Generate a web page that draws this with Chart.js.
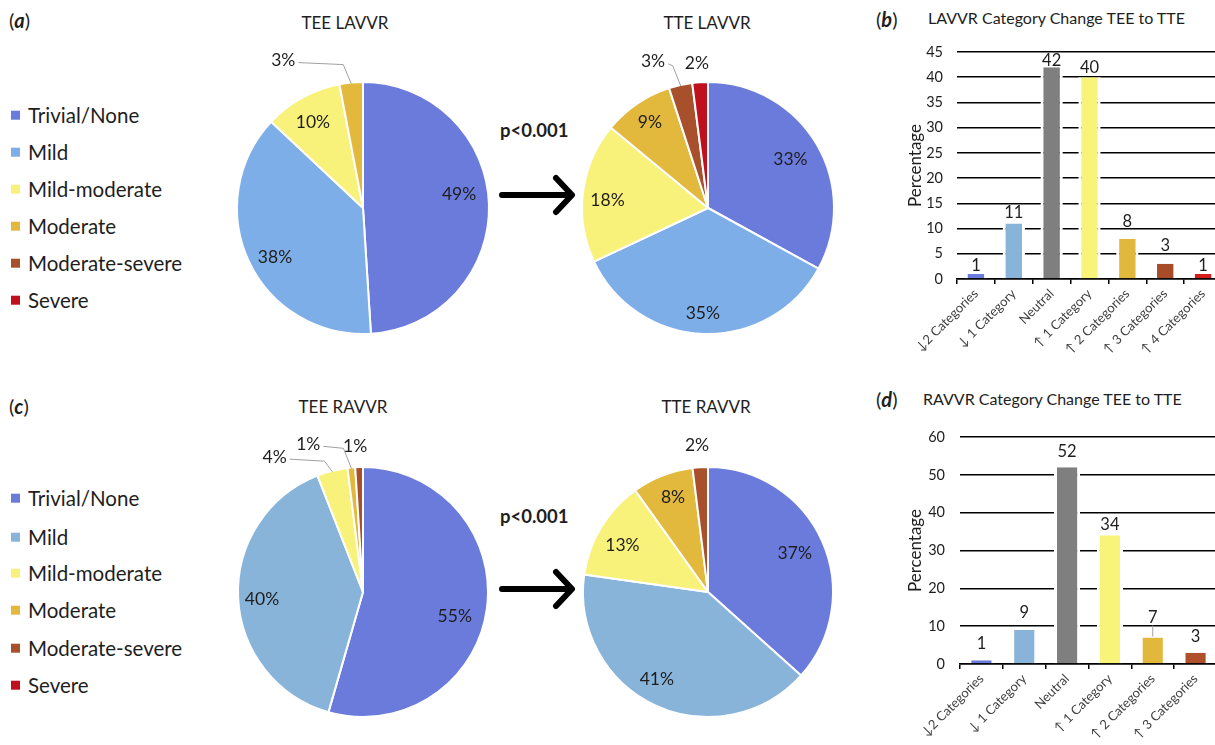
<!DOCTYPE html>
<html>
<head>
<meta charset="utf-8">
<title>LAVVR / RAVVR grading: TEE vs TTE</title>
<script src="https://cdn.jsdelivr.net/npm/chart.js@4.4.1/dist/chart.umd.min.js"></script>
<style>
  html, body { margin: 0; padding: 0; width: 1215px; height: 745px; overflow: hidden; background: #fff; }
  body { position: relative; font-family: Lato, "Open Sans", "DejaVu Sans", sans-serif; color: #1e1e1e; }
  .abs { position: absolute; white-space: nowrap; transform: translateY(-50%); line-height: 1.2; }
  .tag { font-size: 20px; }
  .tag b { font-style: italic; }
  .ptitle { font-size: 17px; transform: translate(-50%, -50%); }
  .btitle { font-size: 16px; }
  .pval { font-size: 18.5px; font-weight: bold; }
  .leg { font-size: 20.5px; display: flex; align-items: center; }
  .leg i { display: inline-block; width: 9px; height: 9px; margin-right: 8px; }
  canvas { position: absolute; }
</style>
</head>
<body>

<div class="abs tag" style="left:9px;top:20px">(<b>a</b>)</div>
<div class="abs tag" style="left:876px;top:19px">(<b>b</b>)</div>
<div class="abs tag" style="left:9px;top:406px">(<b>c</b>)</div>
<div class="abs tag" style="left:876px;top:399px">(<b>d</b>)</div>

<div class="abs ptitle" style="left:345px;top:23px">TEE LAVVR</div>
<div class="abs ptitle" style="left:707px;top:23px">TTE LAVVR</div>
<div class="abs ptitle" style="left:343px;top:407px">TEE RAVVR</div>
<div class="abs ptitle" style="left:706px;top:407px">TTE RAVVR</div>

<div class="abs btitle" style="left:928px;top:18px">LAVVR Category Change TEE to TTE</div>
<div class="abs btitle" style="left:923px;top:399px">RAVVR Category Change TEE to TTE</div>

<div class="abs pval" style="left:500px;top:130px">p&lt;0.001</div>
<div class="abs pval" style="left:500px;top:516px">p&lt;0.001</div>

<svg style="position:absolute;left:495px;top:170px" width="90" height="50">
  <path d="M7 25 H75 M61 8 L77 25 L61 42" stroke="#000" stroke-width="6" fill="none" stroke-linecap="round" stroke-linejoin="round"/>
</svg>
<svg style="position:absolute;left:495px;top:564px" width="90" height="50">
  <path d="M7 25 H75 M61 8 L77 25 L61 42" stroke="#000" stroke-width="6" fill="none" stroke-linecap="round" stroke-linejoin="round"/>
</svg>

<div id="legendA"></div>
<div id="legendC"></div>

<canvas id="teeLavvrPie" width="360" height="360" style="left:183px;top:28px"></canvas>
<canvas id="tteLavvrPie" width="360" height="360" style="left:528px;top:28px"></canvas>
<canvas id="teeRavvrPie" width="360" height="360" style="left:183px;top:412px"></canvas>
<canvas id="tteRavvrPie" width="360" height="360" style="left:528px;top:412px"></canvas>
<canvas id="lavvrBars" width="342" height="372" style="left:880px;top:0px"></canvas>
<canvas id="ravvrBars" width="337" height="360" style="left:880px;top:385px"></canvas>

<script>
// ---- data ----
const severityLabels = ['Trivial/None', 'Mild', 'Mild-moderate', 'Moderate', 'Moderate-severe', 'Severe'];

// percentage of patients per regurgitation grade
const teeLavvr = [49, 38, 10, 3, 0, 0];
const tteLavvr = [33, 35, 18, 9, 3, 2];
const teeRavvr = [55, 40, 4, 1, 1, 0];
const tteRavvr = [37, 41, 13, 8, 2, 0];

// change in grade category between TEE and TTE (percentage)
const lavvrChangeCategories = ['\u21932 Categories', '\u2193 1 Category', 'Neutral', '\u2191 1 Category', '\u2191 2 Categories', '\u2191 3 Categories', '\u2191 4 Categories'];
const lavvrChange = [1, 11, 42, 40, 8, 3, 1];
const ravvrChangeCategories = ['\u21932 Categories', '\u2193 1 Category', 'Neutral', '\u2191 1 Category', '\u2191 2 Categories', '\u2191 3 Categories'];
const ravvrChange = [1, 9, 52, 34, 7, 3];

// y-axis ranges of the two bar panels
const lavvrAxis = { max: 45, step: 5 };
const ravvrAxis = { max: 60, step: 10 };

// ---- styling ----
const FONT = 'Lato, "Open Sans", "DejaVu Sans", sans-serif';
const lavvrColors = ['#6a7bdc', '#7daee8', '#f8f27a', '#e2b93c', '#a8502c', '#c0101e'];
const ravvrColors = ['#6a7bdc', '#88b4da', '#f8f27a', '#e2b93c', '#a8502c', '#c0101e'];
const lavvrBarColors = ['#6a7bdc', '#88b4da', '#7f7f7f', '#f8f47a', '#e2b83c', '#a84c28', '#d41e1e'];
const ravvrBarColors = ['#6a7bdc', '#88b4da', '#7f7f7f', '#f8f47a', '#e2b83c', '#b0502a'];

// ---- legends ----
function buildLegend(id, colors, rowYs) {
  const host = document.getElementById(id);
  severityLabels.forEach((name, i) => {
    const row = document.createElement('div');
    row.className = 'abs leg';
    row.style.left = '11px';
    row.style.top = rowYs[i] + 'px';
    row.innerHTML = '<i style="background:' + colors[i] + '"></i>' + name;
    host.appendChild(row);
  });
}
buildLegend('legendA', lavvrColors, [115, 152, 189, 226, 263, 300]);
buildLegend('legendC', ravvrColors, [498, 537, 573, 610, 648, 685]);

// ---- pie slice labels ----
// shift: degrees the label is turned from the slice middle, r: distance as a fraction of the radius
const sliceLabels = {
  id: 'sliceLabels',
  afterDatasetsDraw(chart, args, opts) {
    const ctx = chart.ctx;
    const values = chart.data.datasets[0].data;
    const meta = chart.getDatasetMeta(0);
    ctx.save();
    ctx.font = '17.5px ' + FONT;
    ctx.fillStyle = '#1e1e1e';
    ctx.textAlign = 'center';
    ctx.textBaseline = 'middle';
    meta.data.forEach((arc, i) => {
      if (!values[i]) return;
      const p = arc.getProps(['x', 'y', 'startAngle', 'endAngle', 'outerRadius'], true);
      const spec = (opts.place && opts.place[i]) || {};
      const mid = (p.startAngle + p.endAngle) / 2;
      const a = mid + (spec.shift || 0) * Math.PI / 180;
      const f = spec.r || 0.76;
      const lx = p.x + Math.cos(a) * p.outerRadius * f;
      const ly = p.y + Math.sin(a) * p.outerRadius * f;
      const txt = values[i] + '%';
      ctx.fillText(txt, lx, ly);
      if (spec.leader) {
        const w = ctx.measureText(txt).width;
        const ex = p.x + Math.cos(mid) * (p.outerRadius - 1);
        const ey = p.y + Math.sin(mid) * (p.outerRadius - 1);
        ctx.strokeStyle = '#a0a0a0';
        ctx.lineWidth = 1;
        ctx.beginPath();
        ctx.moveTo(lx + w / 2 + 3, ly + 2);
        ctx.lineTo(ex - 8, ly + 4);
        ctx.lineTo(ex, ey);
        ctx.stroke();
      }
    });
    ctx.restore();
  }
};

function makePie(id, values, colors, radius, place) {
  return new Chart(document.getElementById(id), {
    type: 'pie',
    data: {
      labels: severityLabels,
      datasets: [{ data: values, backgroundColor: colors, borderColor: '#ffffff', borderWidth: 2 }]
    },
    options: {
      responsive: false,
      animation: false,
      events: [],
      radius: radius,
      layout: { padding: 0 },
      plugins: { legend: { display: false }, tooltip: { enabled: false }, sliceLabels: { place } }
    },
    plugins: [sliceLabels]
  });
}

makePie('teeLavvrPie', teeLavvr, lavvrColors, 126, [
  { shift: -6, r: 0.77 }, { shift: -4, r: 0.80 }, { shift: -1.4, r: 0.79 }, { shift: -23, r: 1.33, leader: true }
]);
makePie('tteLavvrPie', tteLavvr, lavvrColors, 126, [
  { shift: 0, r: 0.76 }, { shift: 1, r: 0.84 }, { shift: -2.6, r: 0.80 }, { shift: 0, r: 0.82 },
  { shift: -8, r: 1.24, leader: true }, { shift: -0.8, r: 1.15 }
]);
makePie('teeRavvrPie', teeRavvr, ravvrColors, 125, [
  { shift: 7, r: 0.76 }, { shift: -1.3, r: 0.81 }, { shift: -19, r: 1.29, leader: true },
  { shift: -15, r: 1.26, leader: true }, { shift: -1.3, r: 1.17 }
]);
makePie('tteRavvrPie', tteRavvr, ravvrColors, 125, [
  { shift: 0, r: 0.76 }, { shift: 5.4, r: 0.81 }, { shift: -2.5, r: 0.78 }, { shift: 1.2, r: 0.81 }, { shift: -0.7, r: 1.18 }
]);

// ---- bar value labels ----
const barValueLabels = {
  id: 'barValueLabels',
  afterDatasetsDraw(chart, args, opts) {
    const ctx = chart.ctx;
    const values = chart.data.datasets[0].data;
    const meta = chart.getDatasetMeta(0);
    ctx.save();
    ctx.font = '16.5px ' + FONT;
    ctx.fillStyle = '#1e1e1e';
    ctx.textAlign = 'center';
    ctx.textBaseline = 'middle';
    meta.data.forEach((bar, i) => {
      const lift = (opts.lift && opts.lift[i]) || 10;
      const y = bar.y - lift;
      ctx.fillText(String(values[i]), bar.x, y);
      if (opts.leaders && opts.leaders.includes(i)) {
        ctx.strokeStyle = '#a0a0a0';
        ctx.lineWidth = 1;
        ctx.beginPath();
        ctx.moveTo(bar.x, y + 8);
        ctx.lineTo(bar.x, bar.y - 1);
        ctx.stroke();
      }
    });
    ctx.restore();
  }
};

function makeBars(id, cats, values, colors, axis, dims, labelOpts) {
  return new Chart(document.getElementById(id), {
    type: 'bar',
    data: {
      labels: cats,
      datasets: [{
        data: values,
        backgroundColor: colors,
        borderColor: '#ffffff',
        borderWidth: { left: 3, right: 3, top: 0, bottom: 0 },
        borderSkipped: false,
        barPercentage: dims.barPct,
        categoryPercentage: 1
      }]
    },
    options: {
      responsive: false,
      animation: false,
      events: [],
      layout: { padding: { top: dims.top, left: 0, right: 0, bottom: 0 } },
      plugins: { legend: { display: false }, tooltip: { enabled: false }, barValueLabels: labelOpts },
      scales: {
        x: {
          offset: true,
          grid: { offset: true, drawOnChartArea: false, drawTicks: true, tickLength: 5, color: '#000', lineWidth: 1.5 },
          border: { display: true, color: '#000', width: 1.5 },
          ticks: { autoSkip: false, minRotation: 45, maxRotation: 45, padding: 2, color: '#404040', font: { family: FONT, size: 13 } },
          afterFit(scale) { scale.height = dims.xHeight; }
        },
        y: {
          min: 0,
          max: axis.max,
          ticks: { stepSize: axis.step, padding: dims.tickPad, color: '#1e1e1e', font: { family: FONT, size: 14.5 } },
          grid: { color: '#000', lineWidth: 1.5, drawTicks: false },
          border: { display: false },
          title: { display: true, text: 'Percentage', color: '#1e1e1e', font: { family: FONT, size: 17 }, padding: { top: 25, bottom: 4 } },
          afterFit(scale) { scale.width = dims.yWidth; }
        }
      }
    },
    plugins: [barValueLabels]
  });
}

makeBars('lavvrBars', lavvrChangeCategories, lavvrChange, lavvrBarColors, lavvrAxis,
  { top: 52, xHeight: 93, yWidth: 77, tickPad: 14, barPct: 0.59 },
  { lift: [8, 11, 6, 10, 17, 18, 8] });
makeBars('ravvrBars', ravvrChangeCategories, ravvrChange, ravvrBarColors, ravvrAxis,
  { top: 52, xHeight: 81, yWidth: 80, tickPad: 15, barPct: 0.61 },
  { lift: [17, 17, 16, 11, 20, 16], leaders: [4] });
</script>
</body>
</html>
